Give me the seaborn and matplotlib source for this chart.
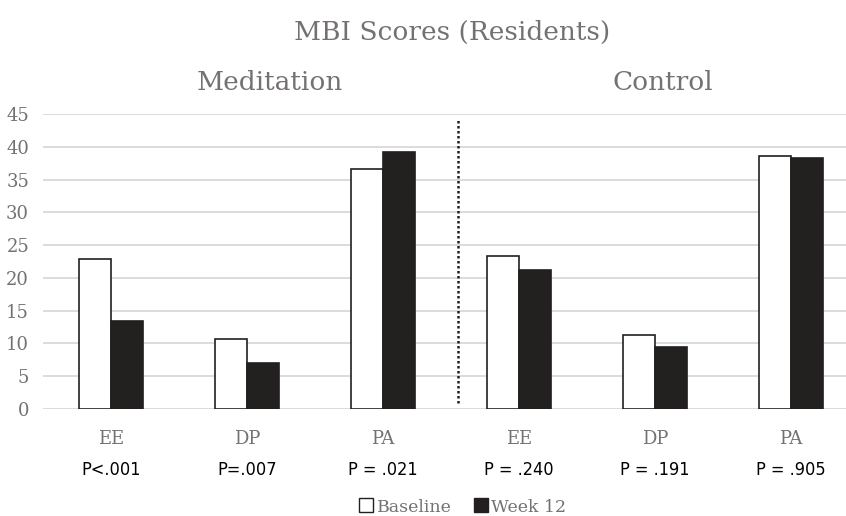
import numpy as np
import pandas as pd
import seaborn as sns
import matplotlib.pyplot as plt
from matplotlib.lines import Line2D

sns.set_theme(style = "white")
plt.rcParams["font.family"] = ["DejaVu Serif"]

# Data
groups = ["Meditation", "Meditation", "Meditation", "Control", "Control", "Control"]
scales = ["EE", "DP", "PA", "EE", "DP", "PA"]
baseline = [22.9, 10.6, 36.7, 23.4, 11.3, 38.6]
week12 = [13.4, 7.0, 39.2, 21.2, 9.5, 38.3]
p_values = ["P<.001", "P=.007", "P = .021", "P = .240", "P = .191", "P = .905"]
times = ["Baseline", "Week 12"]

keys = [g + " " + s for g, s in zip(groups, scales)]
d = pd.DataFrame({"key": keys * 2,
                  "time": ["Baseline"] * 6 + ["Week 12"] * 6,
                  "score": baseline + week12})

grey = "#767171"
dark = "#231f20"

fig = plt.figure(figsize = (8.46, 5.16), dpi = 100)
ax = fig.add_axes([43 / 846, 107.3 / 516, 816 / 846, 294.4 / 516])

sns.barplot(data = d, x = "key", y = "score", hue = "time", order = keys,
            hue_order = times, palette = {"Baseline": "white", "Week 12": dark},
            edgecolor = dark, linewidth = 1.2, width = 0.476, ax = ax,
            legend = False)

# Axes styling
ax.set_ylim(0, 45)
ax.set_yticks(range(0, 50, 5))
ax.set_xlim(-0.5, 5.5)
ax.yaxis.grid(True, color = "#d9d9d9", linewidth = 1.3)
ax.set_axisbelow(True)
for s in ax.spines.values():
    s.set_visible(False)
ax.set_xlabel("")
ax.set_ylabel("")
ax.set_xticks(range(len(keys)))
ax.set_xticklabels(scales)
ax.tick_params(axis = "y", length = 0, pad = 10, labelsize = 13, labelcolor = grey)
ax.tick_params(axis = "x", length = 0, pad = 15, labelsize = 13, labelcolor = grey)

# Divider between the two arms
ax.plot([2.55, 2.55], [0.9, 44.4], color = dark, linestyle = (0, (1, 1)),
        linewidth = 1.8)

# P values under each category
for i, p in enumerate(p_values):
    ax.text(i, -0.208, p, transform = ax.get_xaxis_transform(), ha = "center",
            va = "center", fontsize = 13, color = "black", fontstretch = "condensed",
            family = ["Liberation Sans Narrow", "DejaVu Sans"])

# Titles
fig.text(452 / 846, 1 - 32 / 516, "MBI Scores (Residents)", ha = "center",
         va = "center", fontsize = 19, color = grey)
fig.text(270 / 846, 1 - 82 / 516, "Meditation", ha = "center", va = "center",
         fontsize = 19, color = grey)
fig.text(663 / 846, 1 - 82 / 516, "Control", ha = "center", va = "center",
         fontsize = 19, color = grey)

# Legend
handles = [Line2D([], [], marker = "s", linestyle = "", markersize = 10,
                  markerfacecolor = "white", markeredgecolor = dark),
           Line2D([], [], marker = "s", linestyle = "", markersize = 10,
                  markerfacecolor = dark, markeredgecolor = dark)]
leg = fig.legend(handles, times, loc = "center", ncol = 2, frameon = False,
                 bbox_to_anchor = (462 / 846, 1 - 507 / 516), fontsize = 12.5,
                 handletextpad = 0.1, columnspacing = 1.2, handlelength = 1)
for t in leg.get_texts():
    t.set_color(grey)

fig.savefig("out.png", dpi = 100)
